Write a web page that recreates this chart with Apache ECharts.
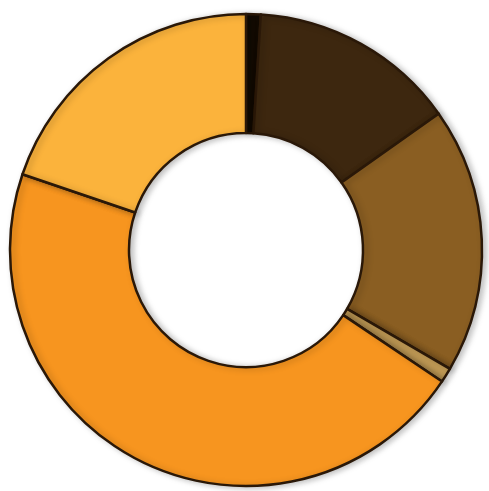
<!DOCTYPE html>
<html><head><meta charset="utf-8">
<script src="https://cdn.jsdelivr.net/npm/echarts@6/dist/echarts.min.js"></script>
<style>html,body{margin:0;padding:0;background:#fff;}#c{width:489px;height:491px;}</style>
</head><body><div id="c"></div>
<script>
var categories = ['A', 'B', 'C', 'D', 'E', 'F'];
var values = [1.0, 14.2, 18.2, 1.0, 45.8, 19.8];
var colors = ['#140c04', '#3d270f', '#8a5e22', '#c09a55', '#f7951f', '#fbb33c'];

var chart = echarts.init(document.getElementById('c'));
chart.setOption({
  animation: false,
  series: [{
    type: 'pie',
    center: [246, 250],
    radius: [117, 236],
    startAngle: 90,
    clockwise: true,
    label: { show: false },
    labelLine: { show: false },
    itemStyle: {
      borderColor: '#2a1808',
      borderWidth: 2.5,
      shadowColor: 'rgba(0,0,0,0.25)',
      shadowBlur: 6,
      shadowOffsetX: 3,
      shadowOffsetY: 1
    },
    data: categories.map(function (c, i) {
      return { name: c, value: values[i], itemStyle: { color: colors[i] } };
    })
  }]
});
</script></body></html>
